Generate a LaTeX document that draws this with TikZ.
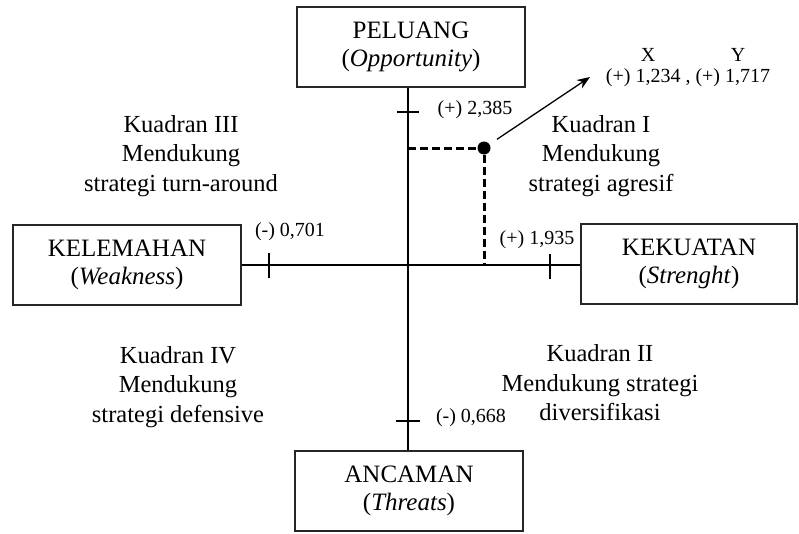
\documentclass[tikz,border=0pt]{standalone}
\usepackage{fontspec}
\setmainfont{Liberation Serif}
\usetikzlibrary{arrows.meta}
\begin{document}
\begin{tikzpicture}[x=1pt,y=-1pt,
  box/.style={draw=black!85, line width=1.2pt, minimum width=228pt, minimum height=80pt, align=center, inner sep=0pt, font=\fontsize{25}{28}\selectfont},
  quad/.style={align=center, font=\fontsize{24.5}{29.5}\selectfont},
  val/.style={font=\fontsize{20}{22}\selectfont, inner sep=0pt},
  axisline/.style={line width=2.8pt},
  tickline/.style={line width=1.4pt},
  dashline/.style={line width=3pt, dash pattern=on 8pt off 4pt}]
\useasboundingbox (0,0) rectangle (799,533);
% boxes
\node[box] (op) at (411,47) {PELUANG\\(\textit{Opportunity})};
\node[box] (wk) at (127,265) {KELEMAHAN\\(\textit{Weakness})};
\node[box, minimum width=216pt] (st) at (689,264) {KEKUATAN\\(\textit{Strenght})};
\node[box] (th) at (409,491) {ANCAMAN\\(\textit{Threats})};
% axes
\coordinate (o) at (408,265);
\draw[axisline] (op.south -| o) -- (th.north -| o);
\draw[axisline] (wk.east |- o) -- (st.west |- o);
% ticks
\coordinate (tt) at (408,112);
\coordinate (tl) at (269,265);
\coordinate (tr) at (550,266);
\coordinate (tb) at (408,421);
\draw[tickline] ([xshift=-11pt]tt) -- ([xshift=11pt]tt);
\draw[tickline] ([xshift=-12pt]tb) -- ([xshift=12pt]tb);
\draw[tickline] ([yshift=-13pt]tl) -- ([yshift=12pt]tl);
\draw[tickline] ([yshift=-13pt]tr) -- ([yshift=12pt]tr);
% point
\node[circle, fill=black, inner sep=0pt, minimum size=13pt] (pt) at (484,148) {};
\draw[dashline] (o |- pt) -- (pt);
\draw[dashline] (pt) -- (pt |- o);
\coordinate (tip) at (590,77);
\draw[line width=1.3pt, -{Stealth[length=13pt,width=10pt]}, shorten <=9pt] (pt) -- (tip);
% values
\node[val] (l1) at (475,110) {(+) 2,385};
\node[val] (l2) at (290,232) {(-) 0,701};
\node[val] (l3) at (537,240) {(+) 1,935};
\node[val] (l4) at (471,418) {(-) 0,668};
\node[val] (lx) at (648,55) {X};
\node[val] (ly) at (738,55) {Y};
\node[val] (lxy) at (688,78) {(+) 1,234 , (+) 1,717};
% quadrants
\node[quad] (q3) at (181,156) {Kuadran III\\Mendukung\\strategi turn-around};
\node[quad] (q1) at (601,156) {Kuadran I\\Mendukung\\strategi agresif};
\node[quad] (q4) at (178,387) {Kuadran IV\\Mendukung\\strategi defensive};
\node[quad] (q2) at (600,383) {Kuadran II\\Mendukung strategi\\diversifikasi};
\end{tikzpicture}
\end{document}
